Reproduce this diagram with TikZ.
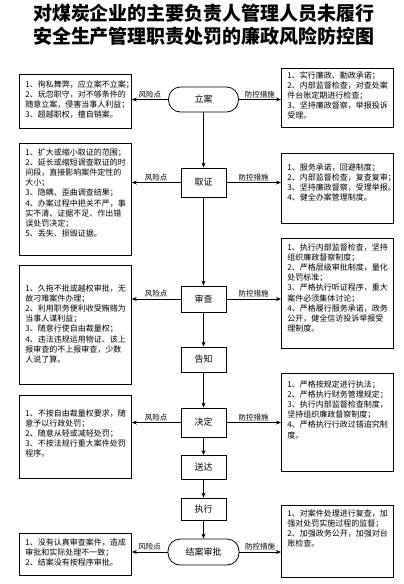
\documentclass[tikz,border=0pt]{standalone}
\usepackage{fontspec}
\newfontfamily\cjk{Noto Sans CJK SC}
\usepackage{tikz}
\usetikzlibrary{arrows.meta}

% side box text: height, top gap, lines
\newcommand{\sidetext}[3]{\parbox[c][#1][t]{100pt}{\raggedright\vspace*{#2}#3}}

\begin{document}
\begin{tikzpicture}[x=1pt, y=-1pt,
    flowbox/.style={rectangle, draw, line width=0.8pt, minimum width=45pt,
        inner sep=0pt, font=\cjk\fontsize{9}{11}\selectfont},
    endbox/.style={flowbox, rounded corners=12pt, minimum width=70pt},
    sidebox/.style={rectangle, draw, line width=0.8pt, anchor=north west,
        inner xsep=6pt, inner ysep=0pt, font=\cjk\fontsize{8}{10.2}\selectfont},
    arr/.style={-{Stealth[length=5pt, width=4pt]}, line width=0.7pt},
    tag/.style={above, inner sep=1.5pt, font=\cjk\fontsize{7.5}{9}\selectfont},
]
\useasboundingbox (0,0) rectangle (404,584);

\node[font=\cjk\bfseries\fontsize{19}{23}\selectfont, align=center] (title) at (204,24.5)
    {对煤炭企业的主要负责人管理人员未履行\\安全生产管理职责处罚的廉政风险防控图};

% main flow
\node[endbox, minimum height=25pt] (lian) at (203.5,99.5) {立案};
\node[flowbox, minimum height=29pt] (quzheng) at (203.5,182.5) {取证};
\node[flowbox, minimum height=26pt] (shencha) at (203.5,299) {审查};
\node[flowbox, minimum height=25pt] (gaozhi) at (203.5,359.5) {告知};
\node[flowbox, minimum height=29pt] (jueding) at (203.5,422.5) {决定};
\node[flowbox, minimum height=24pt] (songda) at (203.5,467.5) {送达};
\node[flowbox, minimum height=22pt] (zhixing) at (203.5,509) {执行};
\node[endbox, minimum height=26pt, minimum width=71pt] (jiean) at (203.5,552) {结案审批};

% risk points
\node[sidebox] (risk1) at (19,74) {\sidetext{54pt}{6pt}{%
    1、徇私舞弊，应立案不立案；\\
    2、玩忽职守，对不够条件的\\
    随意立案，侵害当事人利益；\\
    3、超越职权，擅自销案。}};
\node[sidebox] (risk2) at (19,143) {\sidetext{112pt}{5pt}{%
    1、扩大或缩小取证的范围；\\
    2、延长或缩短调查取证的时\\
    间段，直接影响案件定性的\\
    大小；\\
    3、隐瞒、歪曲调查结果；\\
    4、办案过程中把关不严，事\\
    实不清、证据不足、作出错\\
    误处罚决定；\\
    5、丢失、损毁证据。}};
\node[sidebox] (risk3) at (19,265) {\sidetext{119pt}{19pt}{%
    1、久拖不批或越权审批，无\\
    故刁难案件办理；\\
    2、利用职务便利收受贿赂为\\
    当事人谋利益；\\
    3、随意行使自由裁量权；\\
    4、违法违规运用物证、该上\\
    报审查的不上报审查，少数\\
    人说了算。}};
\node[sidebox] (risk4) at (19,395) {\sidetext{83pt}{14pt}{%
    1、不按自由裁量权要求，随\\
    意予以行政处罚；\\
    2、随意从轻或减轻处罚；\\
    3、不按法规行重大案件处罚\\
    程序。}};
\node[sidebox] (risk5) at (19,533) {\sidetext{42pt}{5pt}{%
    1、没有认真审查案件，造成\\
    审批和实际处理不一致；\\
    2、结案没有按程序审批。}};

% control measures
\node[sidebox] (ctrl1) at (281,68) {\sidetext{59pt}{3pt}{%
    1、实行廉政、勤政承诺；\\
    2、内部监督检查，对查处案\\
    件台账定期进行检查；\\
    3、坚持廉政督察，举报投诉\\
    受理。}};
\node[sidebox] (ctrl2) at (281,153) {\sidetext{70pt}{10pt}{%
    1、服务承诺，回避制度；\\
    2、内部监督检查，复查复审；\\
    3、坚持廉政督察，受理举报。\\
    4、健全办案管理制度。}};
\node[sidebox] (ctrl3) at (281,238) {\sidetext{110pt}{5pt}{%
    1、执行内部监督检查，坚持\\
    组织廉政督察制度；\\
    2、严格层级审批制度，量化\\
    处罚标准；\\
    3、严格执行听证程序，重大\\
    案件必须集体讨论；\\
    4、严格履行服务承诺，政务\\
    公开，健全信访投诉举报受\\
    理制度。}};
\node[sidebox] (ctrl4) at (281,373) {\sidetext{98pt}{7pt}{%
    1、严格按规定进行执法；\\
    2、严格执行财务管理规定；\\
    3、执行内部监督检查制度，\\
    坚持组织廉政督察制度；\\
    4、严格执行行政过错追究制\\
    度。}};
\node[sidebox] (ctrl5) at (281,505) {\sidetext{72pt}{4pt}{%
    1、对案件处理进行复查，加\\
    强对处罚实施过程的监督；\\
    2、加强政务公开，加强对台\\
    账检查。}};

% flow arrows
\draw[arr] (lian) -- (quzheng);
\draw[arr] (quzheng) -- (shencha);
\draw[arr] (shencha) -- (gaozhi);
\draw[arr] (gaozhi) -- (jueding);
\draw[arr] (jueding) -- (songda);
\draw[arr] (songda) -- (zhixing);
\draw[arr] (zhixing) -- (jiean);

% side arrows
\draw[arr] (lian.west) -- (lian.west -| risk1.east) node[tag, midway] {风险点};
\draw[arr] (lian.east) -- (lian.east -| ctrl1.west) node[tag, midway] {防控措施};
\draw[arr] (quzheng.west) -- (quzheng.west -| risk2.east) node[tag, midway] {风险点};
\draw[arr] (quzheng.east) -- (quzheng.east -| ctrl2.west) node[tag, midway] {防控措施};
\draw[arr] (shencha.west) -- (shencha.west -| risk3.east) node[tag, midway] {风险点};
\draw[arr] (shencha.east) -- (shencha.east -| ctrl3.west) node[tag, midway] {防控措施};
\draw[arr] (jueding.west) -- (jueding.west -| risk4.east) node[tag, midway] {风险点};
\draw[arr] (jueding.east) -- (jueding.east -| ctrl4.west) node[tag, midway] {防控措施};
\draw[arr] (jiean.west) -- (jiean.west -| risk5.east) node[tag, midway] {风险点};
\draw[arr] (jiean.east) -- (jiean.east -| ctrl5.west) node[tag, midway] {防控措施};
\end{tikzpicture}
\end{document}
